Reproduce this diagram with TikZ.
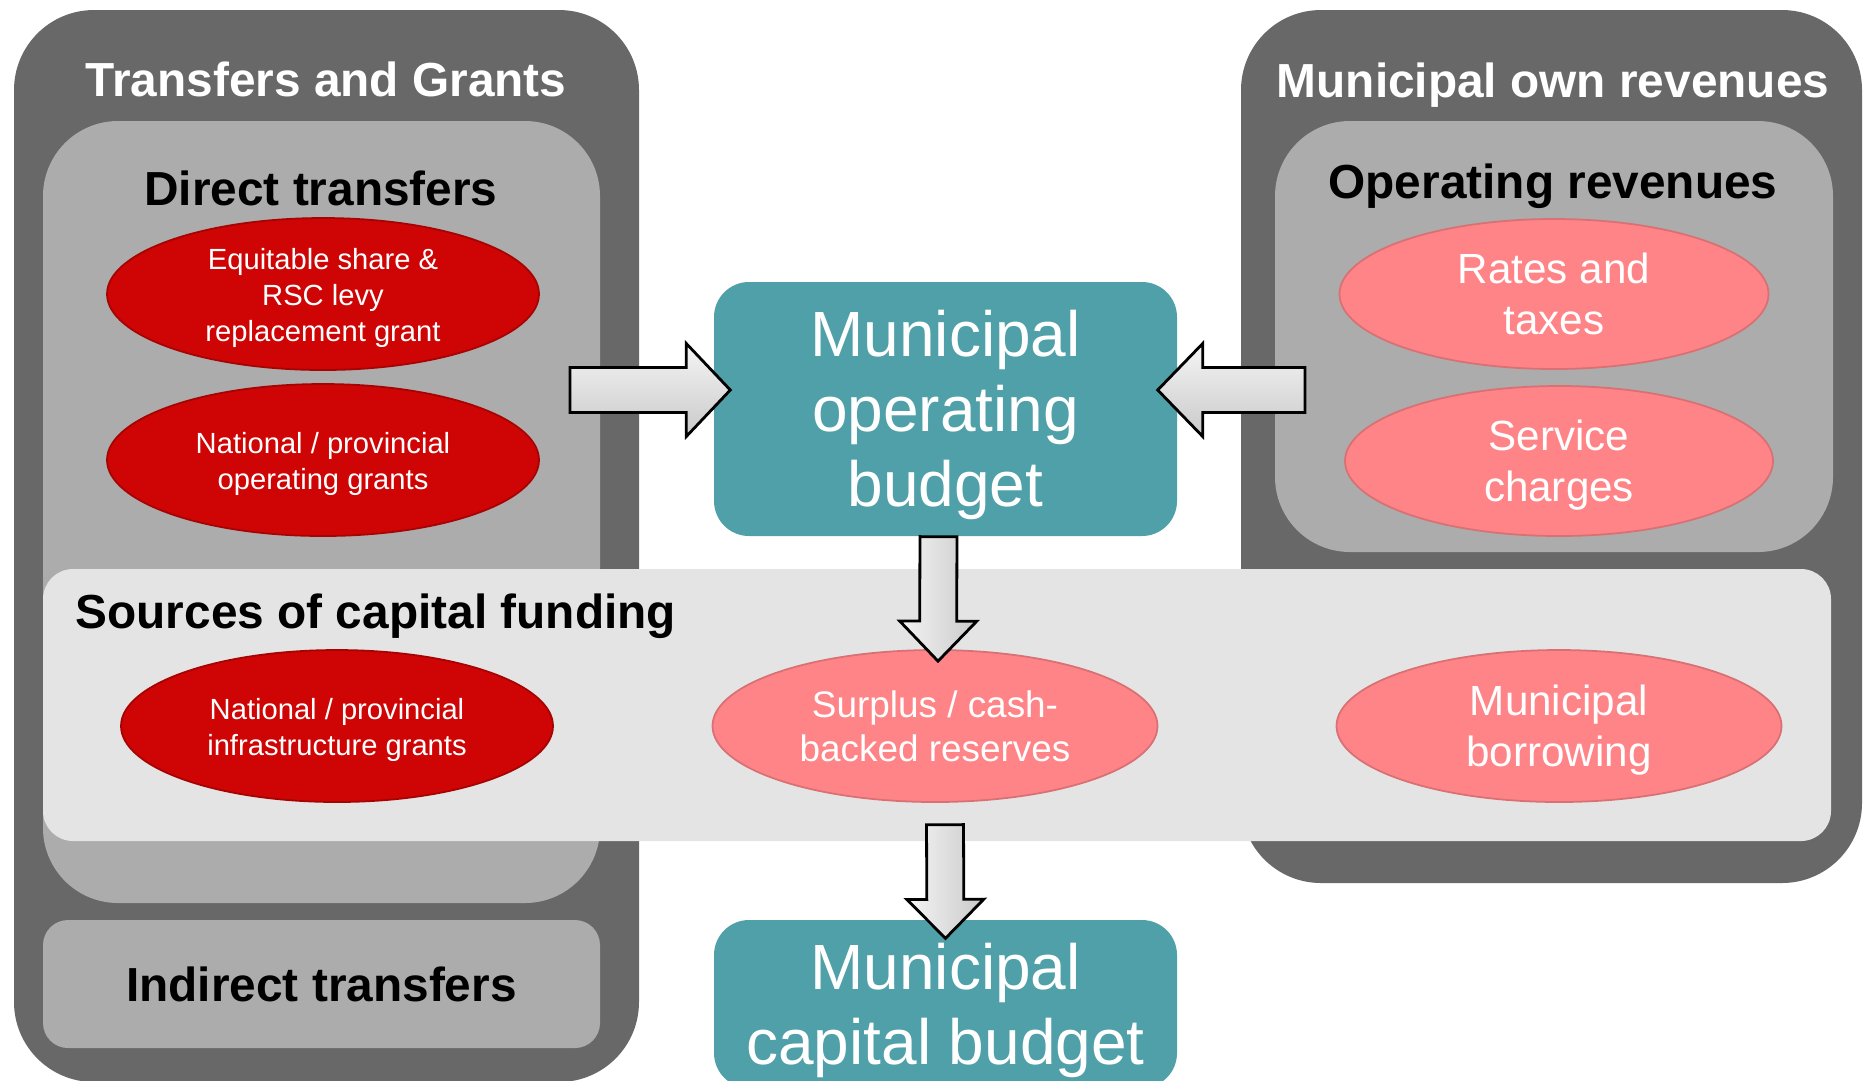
\documentclass[tikz,border=0pt]{standalone}
\usepackage{fontspec}
\setmainfont{Liberation Sans}
\usetikzlibrary{shapes.geometric,positioning,calc}

\definecolor{darkbox}{HTML}{686868}
\definecolor{lightbox}{HTML}{ACACAC}
\definecolor{bandgray}{HTML}{E4E4E4}
\definecolor{grantred}{HTML}{CF0404}
\definecolor{ownpink}{HTML}{FF8487}
\definecolor{budgetteal}{HTML}{4FA0A8}

% block arrow: tail, tip, half shaft, half head, head length, style
\newcommand{\blockarrow}[6]{%
  \path ($(#2)!#5!(#1)$) coordinate (ba-base);
  \filldraw[#6] ($(#1)!#3!90:(#2)$) -- ($(ba-base)!#3!-90:(#1)$)
    -- ($(ba-base)!#4!-90:(#1)$) -- (#2) -- ($(ba-base)!#4!90:(#1)$)
    -- ($(ba-base)!#3!90:(#1)$) -- ($(#1)!#3!-90:(#2)$) -- cycle;
}

\begin{document}
\begin{tikzpicture}[x=0.1mm, y=-0.1mm,
  outerbox/.style={shape=rectangle, fill=darkbox, rounded corners=8mm, inner sep=0pt},
  innerbox/.style={shape=rectangle, fill=lightbox, rounded corners=7.5mm, inner sep=0pt},
  bandbox/.style={shape=rectangle, fill=bandgray, rounded corners=3mm, inner sep=0pt},
  budgetbox/.style={shape=rectangle, fill=budgetteal, rounded corners=3.5mm, inner sep=0pt,
    text=white, align=center, font=\fontsize{18.2}{21.4}\selectfont},
  grantell/.style={shape=ellipse, fill=grantred, draw=grantred!80!black, line width=0.5pt,
    inner sep=0pt, text=white, align=center, font=\fontsize{8.3}{10.2}\selectfont},
  ownell/.style={shape=ellipse, fill=ownpink, draw=ownpink!85!black, line width=0.5pt,
    inner sep=0pt, text=white, align=center, font=\fontsize{12}{14.5}\selectfont},
  titletxt/.style={text=white, font=\fontsize{13.6}{16}\selectfont\bfseries, inner sep=0pt},
  headtxt/.style={text=black, font=\fontsize{13.6}{16}\selectfont\bfseries, inner sep=0pt},
  arrowH/.style={draw=black, line width=0.8pt, top color=gray!8, bottom color=gray!42},
  arrowV/.style={draw=black, line width=0.8pt, left color=gray!8, right color=gray!42}]
\useasboundingbox (0,0) rectangle (1863,1080);

% group boxes
\node [outerbox, minimum width=62.5mm, minimum height=107.2mm] (TG) at (326.5,546) {};
\node [outerbox, minimum width=62.1mm, minimum height=87.3mm] (MOR) at (1551.5,446.5) {};
\node [innerbox, minimum width=55.7mm, minimum height=78.2mm] (DT) at (321.5,512) {};
\node [innerbox, minimum width=55.8mm, minimum height=43.1mm] (OR) at (1554,336.5) {};
\node [innerbox, rounded corners=2.5mm, minimum width=55.7mm, minimum height=12.8mm,
  font=\fontsize{13.6}{16}\selectfont\bfseries] (IT) at (321.5,984) {Indirect transfers};
\node [bandbox, minimum width=178.8mm, minimum height=27.2mm] (SCF) at (937,705) {};

% headings
\node [titletxt, anchor=base] (tTG) at (326,96) {Transfers and Grants};
\node [titletxt, anchor=base] (tMOR) at (1553,97) {Municipal own revenues};
\node [headtxt, anchor=base] (tDT) at (321,205) {Direct transfers};
\node [headtxt, anchor=base] (tOR) at (1553,198) {Operating revenues};
\node [headtxt, anchor=base west] (tSCF) at (75,628) {Sources of capital funding};

% revenue sources
\node [grantell, minimum width=43.2mm, minimum height=15.2mm] (EQS) at (323,294)
  {\rule{0pt}{8.2pt}Equitable share \&\\RSC levy\\replacement grant};
\node [grantell, minimum width=43.2mm, minimum height=15.2mm, below of=EQS, node distance=16.6mm] (NPO)
  {\rule{0pt}{8.2pt}National / provincial\\operating grants};
\node [ownell, minimum width=42.9mm, minimum height=15mm] (RAT) at (1554,294) {Rates and\\taxes};
\node [ownell, minimum width=42.8mm, minimum height=15mm] (SER) at (1559,461)
  {\rule{0pt}{11pt}Service\\charges};
\node [grantell, minimum width=43.2mm, minimum height=15.2mm] (NPI) at (337,726)
  {\rule{0pt}{8.2pt}National / provincial\\infrastructure grants};
\node [ownell, minimum width=44.5mm, minimum height=15.2mm,
  font=\fontsize{10.5}{12.5}\selectfont] (SUR) at (935,726) {Surplus / cash-\\backed reserves};
\node [ownell, minimum width=44.5mm, minimum height=15.2mm] (BOR) at (1559,726)
  {\rule{0pt}{11pt}Municipal\\borrowing};

% budgets
\node [budgetbox, minimum width=46.3mm, minimum height=25.4mm] (MOB) at (945.5,409)
  {\rule{0pt}{16.7pt}Municipal\\operating\\budget};
\node [budgetbox, minimum width=46.3mm, minimum height=16.8mm] (MCB) at (945.5,1004)
  {\rule{0pt}{16.7pt}Municipal\\capital budget};

% flows
\coordinate (inL) at (570,390);
\coordinate (inR) at (1305,390);
\coordinate (opL) at ($(MOB.west)+(17,-19)$);
\coordinate (opR) at ($(MOB.east)+(-20,-19)$);
\coordinate (opD) at ($(MOB.south)+(-7,0)$);
\coordinate (surT) at ($(SUR.north)+(3,12)$);
\coordinate (capS) at ($(SCF.south)+(8,-17)$);
\coordinate (capT) at ($(MCB.north)+(0,19)$);
\blockarrow{inL}{opL}{2.25mm}{4.65mm}{4.4mm}{arrowH}
\blockarrow{inR}{opR}{2.25mm}{4.65mm}{4.5mm}{arrowH}
\blockarrow{opD}{surT}{1.85mm}{3.85mm}{4mm}{arrowV}
\blockarrow{capS}{capT}{1.85mm}{3.85mm}{3.9mm}{arrowV}
\end{tikzpicture}
\end{document}
